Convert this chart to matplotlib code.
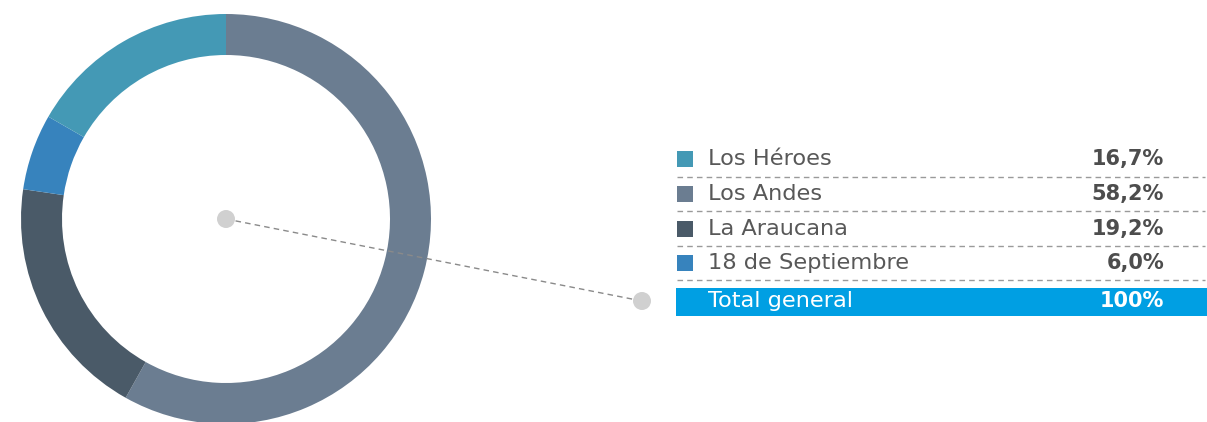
import matplotlib
matplotlib.use("Agg")
import matplotlib.pyplot as plt
from matplotlib.patches import Rectangle

# Data
categories = ["Los Héroes", "Los Andes", "La Araucana", "18 de Septiembre"]
values = [16.7, 58.2, 19.2, 6.0]
value_labels = ["16,7%", "58,2%", "19,2%", "6,0%"]
colors = ["#4499B5", "#6B7D91", "#4A5A68", "#3783BD"]
total_label = "Total general"
total_value = "100%"

# Donut drawing order (clockwise from top)
pie_order = ["Los Andes", "La Araucana", "18 de Septiembre", "Los Héroes"]

W, H = 1207, 422
fig = plt.figure(figsize=(W / 100, H / 100), dpi=100)
ax = fig.add_axes([0, 0, 1, 1])

def Y(py):
    return H - py

cx, cy, R = 226, 219, 205
idx = [categories.index(c) for c in pie_order]
ax.pie([values[i] for i in idx], colors=[colors[i] for i in idx],
       startangle=90, counterclock=False, center=(cx, Y(cy)), radius=R,
       wedgeprops=dict(width=41, linewidth=0), frame=True)

# callout line
x2, y2 = 642, 301
ax.plot([cx, x2], [Y(cy), Y(y2)], color="#8a8a8a", lw=1.0, ls=(0, (4, 3)), zorder=3)
for (px, py) in [(cx, cy), (x2, y2)]:
    ax.add_patch(plt.Circle((px, Y(py)), 9, color="#d0d0d0", zorder=4, lw=0))

# table
row_y = [159, 194, 229, 263]
sep_y = [177, 211, 246, 280]
txt_color = "#585858"
val_color = "#4d4d4d"
font = "DejaVu Sans"
lab_fs = 16.2
val_fs = 15
for i, c in enumerate(categories):
    ax.add_patch(Rectangle((677, Y(row_y[i] + 8)), 16, 16, color=colors[i], lw=0))
    ax.text(708, Y(row_y[i]), c, fontsize=lab_fs, color=txt_color, va="center",
            ha="left", family=font)
    ax.text(1164, Y(row_y[i]), value_labels[i], fontsize=val_fs, color=val_color,
            va="center", ha="right", family=font, fontweight="bold")
for sy in sep_y:
    ax.plot([677, 1205], [Y(sy), Y(sy)], color="#9a9a9a", lw=1.0, ls=(0, (4, 3)))

ax.add_patch(Rectangle((676, Y(316)), 531, 28, color="#009FE3", lw=0))
ax.text(708, Y(301), total_label, fontsize=lab_fs, color="white", va="center",
        ha="left", family=font)
ax.text(1164, Y(301), total_value, fontsize=val_fs, color="white", va="center",
        ha="right", family=font, fontweight="bold")

ax.set_xlim(0, W)
ax.set_ylim(0, H)
ax.set_aspect("equal")
ax.axis("off")
fig.savefig("out.png", dpi=100)
